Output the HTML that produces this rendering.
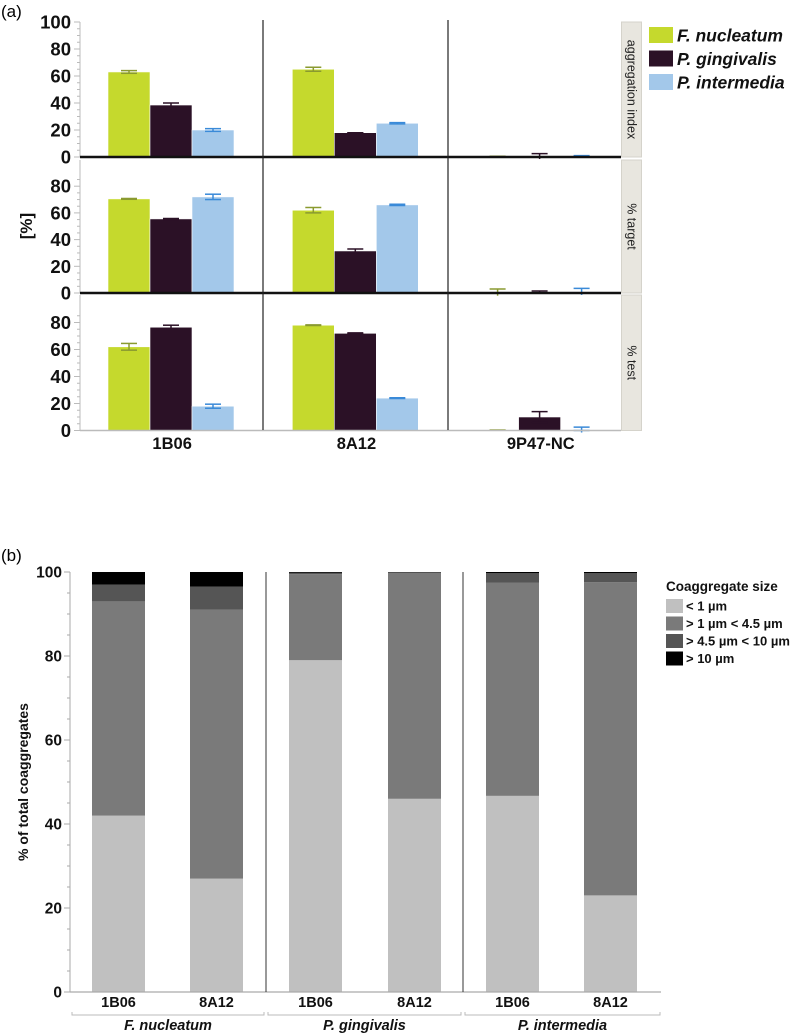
<!DOCTYPE html>
<html><head><meta charset="utf-8">
<style>
html,body{margin:0;padding:0;background:#fff;}
svg{display:block;font-family:"Liberation Sans",sans-serif;}
.nar{font-family:"Liberation Sans Narrow","Liberation Sans",sans-serif;}
</style></head>
<body>
<svg id="fig" width="800" height="1035" viewBox="0 0 800 1035" xmlns="http://www.w3.org/2000/svg">
<text x="1" y="17" font-size="17">(a)</text>
<text x="1" y="561" font-size="17">(b)</text>
<g id="a"></g>
<g id="b"></g>
</svg>
<script>
// ----- Chart (a) data -----
const aGroups = ["1B06", "8A12", "9P47-NC"];
const aSeries = ["F. nucleatum", "P. gingivalis", "P. intermedia"];
const aRows = ["aggregation index", "% target", "% test"];
const aggVals = [[63, 38.5, 20], [65, 18, 25], [0.5, 0.5, 0.5]];
const aggErr = [[1, 1.5, 1], [1.5, 0, 0.5], [0, 2, 0.5]];
const targetVals = [[70.5, 55.5, 72], [62, 31.5, 66], [0.5, 0.5, 1]];
const targetErr = [[0.3, 0.3, 2], [2, 1.5, 0.5], [2.5, 1, 2.5]];
const testVals = [[62, 76.5, 18], [78, 72, 24], [0.3, 10, 0.5]];
const testErr = [[2.5, 1.5, 1.5], [0.2, 0.3, 0.3], [0, 4, 2]];
const aTicksTop = [0, 20, 40, 60, 80, 100];
const aTicks = [0, 20, 40, 60, 80];
// ----- Chart (b) data -----
const bCats = ["1B06", "8A12", "1B06", "8A12", "1B06", "8A12"];
const bSpecies = ["F. nucleatum", "P. gingivalis", "P. intermedia"];
const bSizes = ["< 1 µm", "> 1 µm < 4.5 µm", "> 4.5 µm < 10 µm", "> 10 µm"];
const sizeLt1 = [42, 27, 79, 46, 46.7, 23];
const size1to45 = [51, 64, 20.5, 53.8, 50.8, 74.6];
const size45to10 = [4, 5.5, 0.3, 0.1, 2.2, 2.1];
const sizeGt10 = [3, 3.5, 0.2, 0.1, 0.3, 0.3];
const bTicks = [0, 20, 40, 60, 80, 100];

const NS = "http://www.w3.org/2000/svg";
function mk(parent, tag, attrs, text) {
  const e = document.createElementNS(NS, tag);
  for (const k in attrs) e.setAttribute(k, attrs[k]);
  if (text !== undefined) e.textContent = text;
  parent.appendChild(e);
  return e;
}

// ===== Chart A =====
(function () {
  const g = document.getElementById("a");
  const colors = ["#c5d92d", "#2b1126", "#a3c8ea"];
  const errColors = ["#8a9a30", "#2b1126", "#3a8ad8"];
  const x0 = 80, x1 = 621, pw = 184.3;
  const rowsY = [[157, 1.35, 22], [293, 1.335, 160], [430.5, 1.35, 295]];
  const vals = [aggVals, targetVals, testVals];
  const errs = [aggErr, targetErr, testErr];
  const bw = 42, off = 28;
  rowsY.forEach((r, ri) => {
    const [zero, k, top] = r;
    const y = v => zero - v * k;
    // strip
    const st = mk(g, "rect", {x: 621.5, y: top, width: 20, height: zero - top, fill: "#e8e6df", stroke: "#d5d3cb", "stroke-width": 1});
    
    
    const cy = (top + zero) / 2;
    const stt = mk(g, "text", {x: 631.5, y: cy, "font-size": 12.5, fill: "#222", "text-anchor": "middle", "dominant-baseline": "central", transform: `rotate(90 631.5 ${cy})`}, aRows[ri]);
    
    
    // y axis line and minor ticks
    mk(g, "line", {x1: x0, y1: top, x2: x0, y2: zero, stroke: "#bbb", "stroke-width": 1});
    const maxT = ri === 0 ? 100 : 85;
    for (let v = 0; v <= maxT; v += 5) {
      const len = v % 20 === 0 ? 6 : 3;
      mk(g, "line", {x1: x0 - len, y1: y(v), x2: x0, y2: y(v), stroke: "#bbb", "stroke-width": 1});
    }
    (ri === 0 ? aTicksTop : aTicks).forEach(t => {
      const tl = mk(g, "text", {x: 71, y: y(t) + 6.5, "font-size": 18.5, "font-weight": "bold", "text-anchor": "end", fill: "#111"}, t);
      
      
    });
    // bars
    for (let gi = 0; gi < 3; gi++) {
      for (let si = 0; si < 3; si++) {
        const v = vals[ri][gi][si], e = errs[ri][gi][si];
        const bx = x0 + gi * pw + off + si * bw;
        const b = mk(g, "rect", {x: bx, y: y(v), width: bw, height: zero - y(v), fill: colors[si], stroke: "#fff", "stroke-width": 0.6});
        
        
        const cx = bx + bw / 2;
        const ec = errColors[si];
        mk(g, "line", {x1: cx, y1: y(v + e), x2: cx, y2: y(v - e), stroke: ec, "stroke-width": 1.5});
        mk(g, "line", {x1: cx - 8, y1: y(v + e), x2: cx + 8, y2: y(v + e), stroke: ec, "stroke-width": 1.5});
        mk(g, "line", {x1: cx - 8, y1: y(Math.max(v - e, 0)), x2: cx + 8, y2: y(Math.max(v - e, 0)), stroke: ec, "stroke-width": 1.5});
      }
    }
    // zero line
    if (ri < 2) mk(g, "line", {x1: x0, y1: zero, x2: x1, y2: zero, stroke: "#111", "stroke-width": 2.5});
    else mk(g, "line", {x1: x0, y1: zero, x2: x1, y2: zero, stroke: "#bbb", "stroke-width": 1.5});
  });
  // separators
  [263, 448].forEach(sx => mk(g, "line", {x1: sx, y1: 20, x2: sx, y2: 430, stroke: "#222", "stroke-width": 1.2}));
  aGroups.forEach((n, gi) => {
    const t = mk(g, "text", {x: x0 + gi * pw + pw / 2, y: 449, "font-size": 16.5, "font-weight": "bold", "text-anchor": "middle", fill: "#111"}, n);
    
    
  });
  const yt = mk(g, "text", {x: 32, y: 226, "font-size": 17, "font-weight": "bold", "text-anchor": "middle", transform: "rotate(-90 32 226)", fill: "#111"}, "[%]");
  
  
  // legend
  aSeries.forEach((s, si) => {
    const ly = 27 + si * 23.5;
    const r = mk(g, "rect", {x: 649, y: ly, width: 24, height: 16, fill: colors[si]});
    
    
    const t = mk(g, "text", {x: 677, y: ly + 14.5, "font-size": 17.5, "font-weight": "bold", "font-style": "italic", fill: "#111"}, s);
    
    
  });
})();

// ===== Chart B =====
(function () {
  const g = document.getElementById("b");
  const zero = 992, k = 4.2, x0 = 70, x1 = 661;
  const y = v => zero - v * k;
  const cols = ["#c0c0c0", "#7a7a7a", "#555555", "#000000"];
  const series = [sizeLt1, size1to45, size45to10, sizeGt10];
  const barX = [92, 190, 289, 388, 486, 584], bw = 53;
  mk(g, "line", {x1: x0, y1: y(100), x2: x0, y2: zero, stroke: "#aaa", "stroke-width": 1});
  for (let v = 0; v <= 100; v += 5) {
    const len = v % 20 === 0 ? 6 : 3;
    mk(g, "line", {x1: x0 - len, y1: y(v), x2: x0, y2: y(v), stroke: "#aaa", "stroke-width": 1});
  }
  bTicks.forEach(t => {
    const tl = mk(g, "text", {x: 62, y: y(t) + 5.5, "font-size": 15.5, "font-weight": "bold", "text-anchor": "end", class: "nar", fill: "#111"}, t);
    
    
  });
  bCats.forEach((c, i) => {
    let acc = 0;
    series.forEach((s, si) => {
      const v = s[i];
      const b = mk(g, "rect", {x: barX[i], y: y(acc + v), width: bw, height: v * k, fill: cols[si]});
      
      
      acc += v;
    });
    const t = mk(g, "text", {x: barX[i] + bw / 2, y: 1007, "font-size": 14.5, "font-weight": "bold", "text-anchor": "middle", class: "nar", fill: "#111"}, c);
    
    
  });
  mk(g, "line", {x1: x0, y1: zero, x2: x1, y2: zero, stroke: "#aaa", "stroke-width": 1.2});
  [266, 463].forEach(sx => mk(g, "line", {x1: sx, y1: y(100), x2: sx, y2: zero, stroke: "#333", "stroke-width": 1}));
  const spans = [[72, 264], [268, 461], [465, 660]];
  bSpecies.forEach((s, i) => {
    const [a, b2] = spans[i];
    mk(g, "path", {d: `M${a} 1012 V1015 H${b2} V1012`, fill: "none", stroke: "#bbb", "stroke-width": 1});
    const t = mk(g, "text", {x: (a + b2) / 2, y: 1030, "font-size": 14.5, "font-weight": "bold", "font-style": "italic", "text-anchor": "middle", class: "nar", fill: "#111"}, s);
    
    
  });
  const yt = mk(g, "text", {x: 28, y: 782, "font-size": 14, "font-weight": "bold", "text-anchor": "middle", transform: "rotate(-90 28 782)", fill: "#111"}, "% of total coaggregates");
  
  
  const lt = mk(g, "text", {x: 666, y: 591, "font-size": 13.5, "font-weight": "bold", class: "nar", fill: "#111"}, "Coaggregate size");
  
  
  bSizes.forEach((s, si) => {
    const ly = 599 + si * 17.5;
    const r = mk(g, "rect", {x: 666, y: ly, width: 17, height: 14, fill: cols[si]});
    
    
    const t = mk(g, "text", {x: 686, y: ly + 11.5, "font-size": 13, "font-weight": "bold", class: "nar", fill: "#111"}, s);
    
    
  });
})();
</script>
</body></html>
